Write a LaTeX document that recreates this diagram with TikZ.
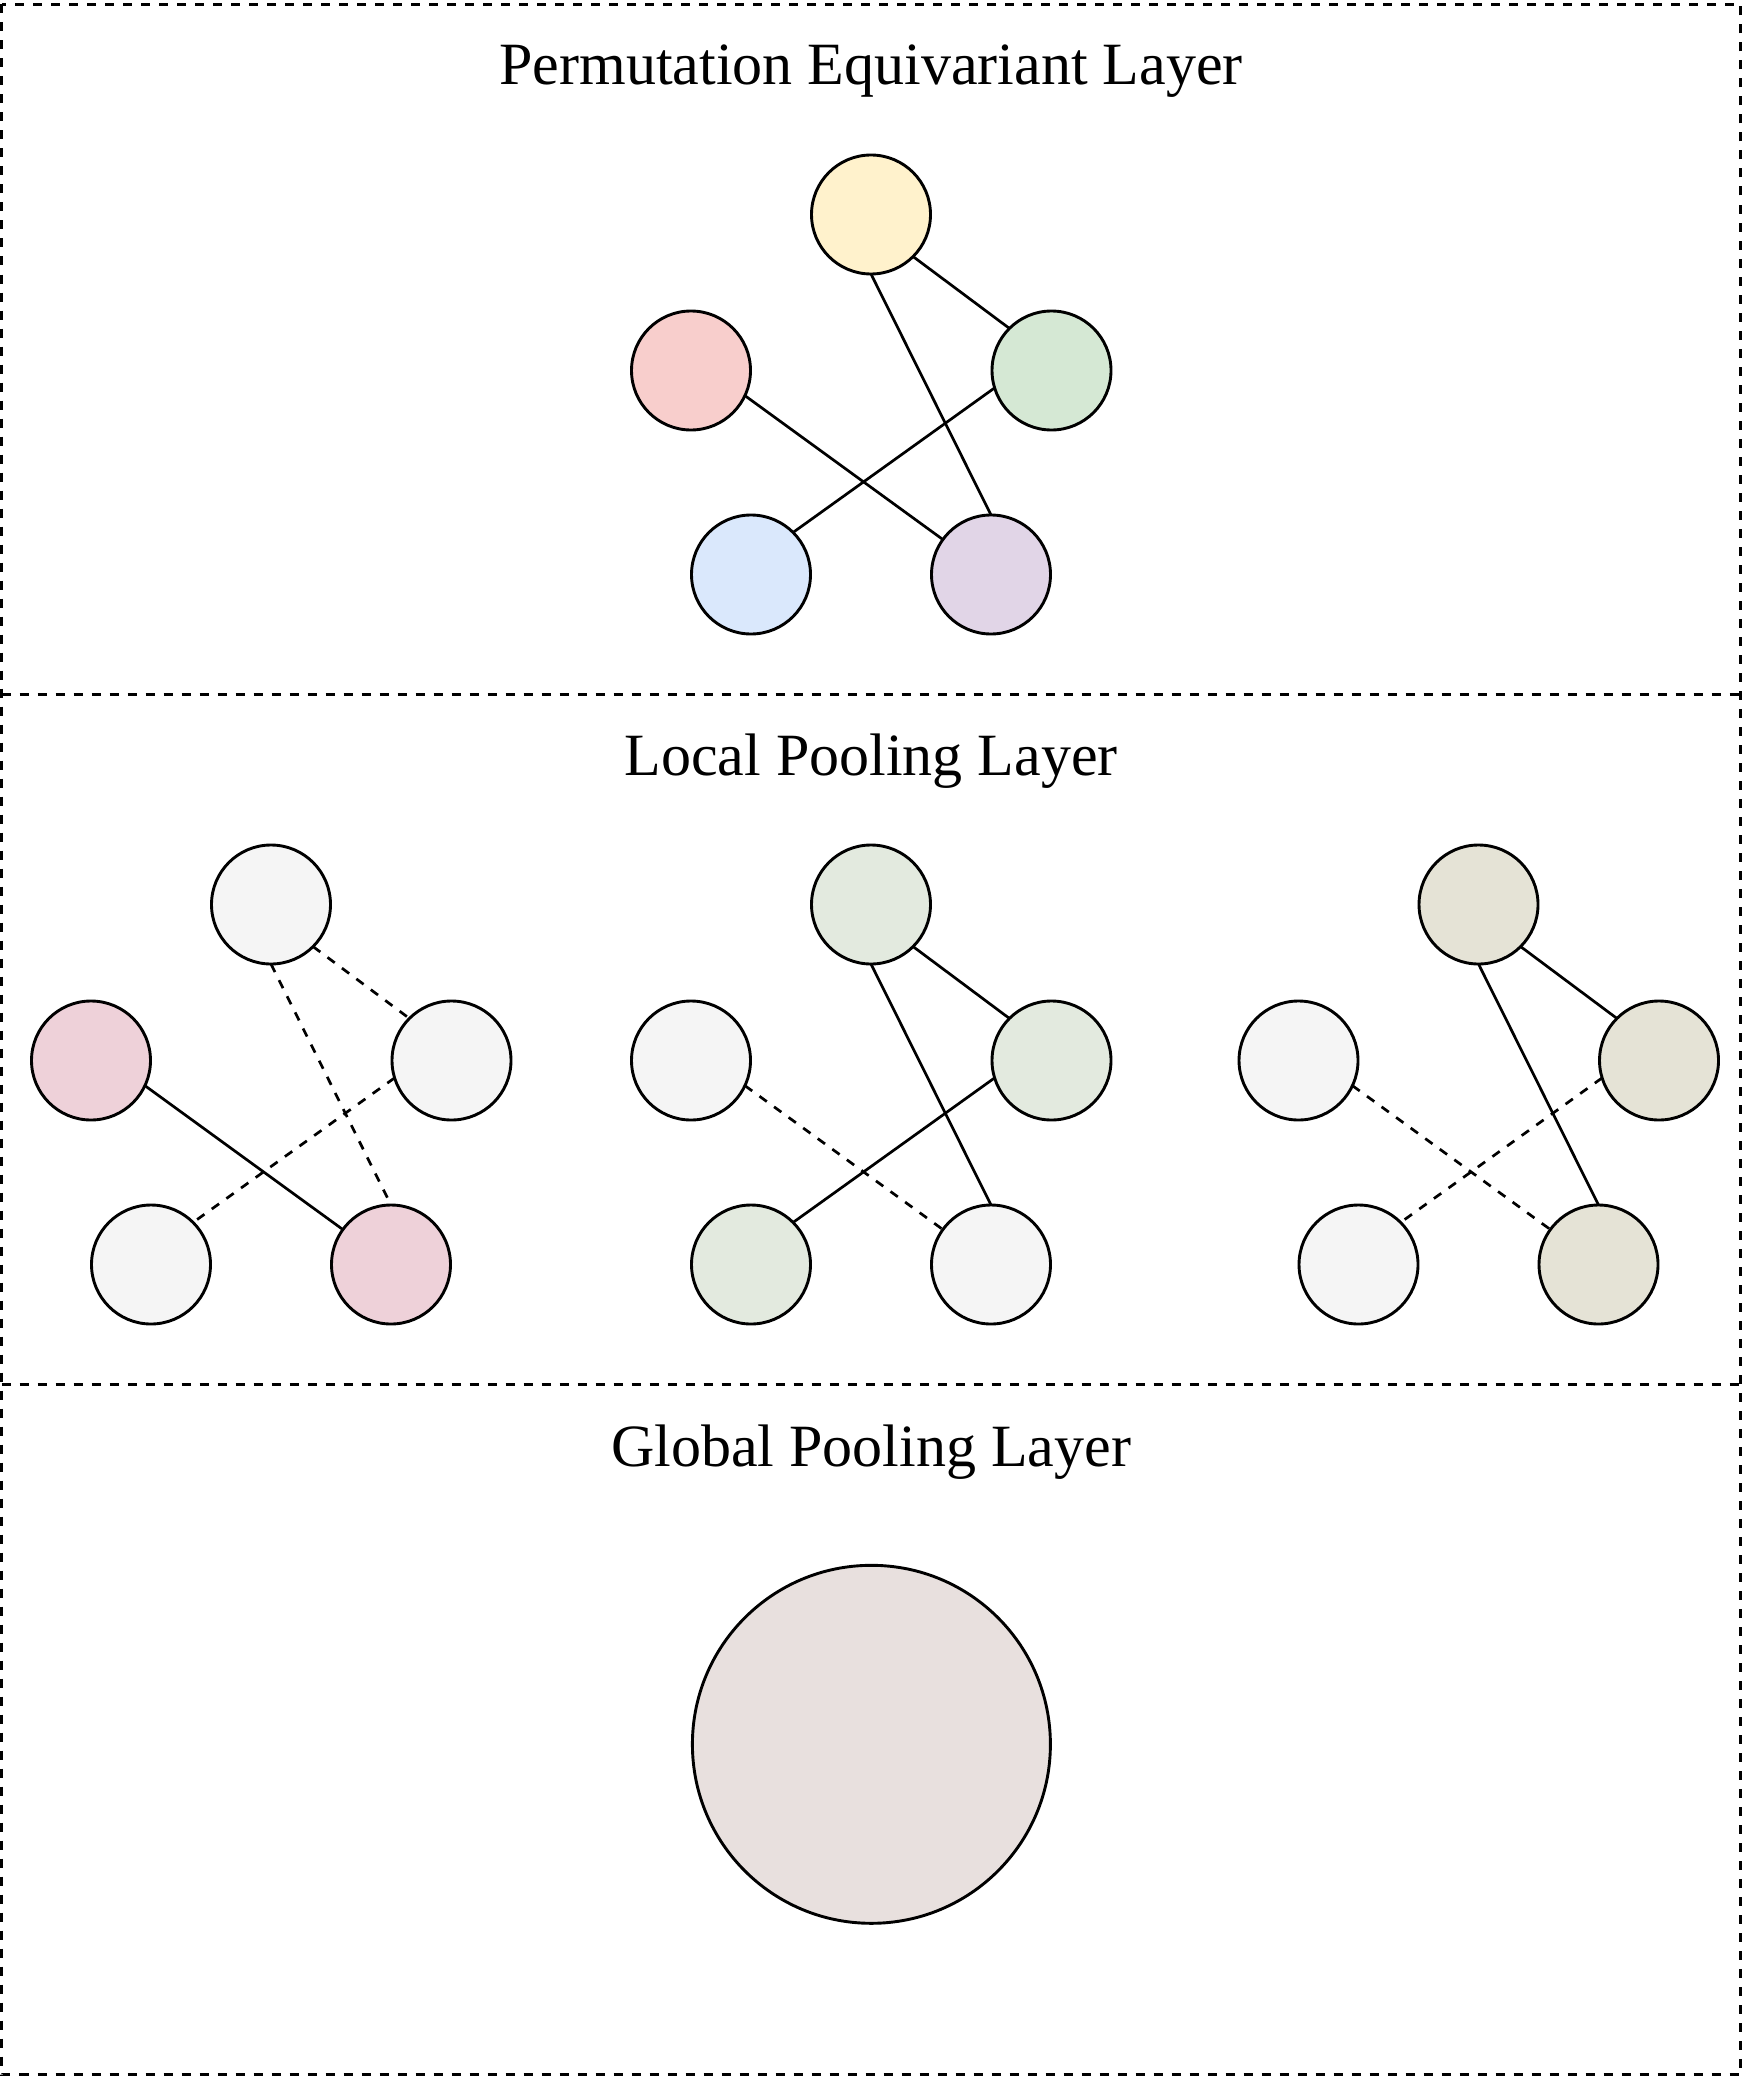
\documentclass[tikz,border=0pt]{standalone}
\usepackage{fontspec}
\setmainfont{Liberation Serif}
\definecolor{cyel}{HTML}{FFF2CC}
\definecolor{cred}{HTML}{F8CECC}
\definecolor{cgrn}{HTML}{D5E8D4}
\definecolor{cblu}{HTML}{DAE8FC}
\definecolor{cpur}{HTML}{E1D5E7}
\definecolor{cgry}{HTML}{F5F5F5}
\definecolor{cpnk}{HTML}{EED1D9}
\definecolor{csag}{HTML}{E3EADF}
\definecolor{ctan}{HTML}{E5E3D6}
\definecolor{cbig}{HTML}{E8E0DE}
\begin{document}
\begin{tikzpicture}[x=1pt,y=-1pt,
  frame/.style={draw=black, line width=2.6pt, dash pattern=on 9pt off 9pt},
  vtx/.style={circle, draw=black, line width=2.9pt, minimum size=119pt, inner sep=0pt, outer sep=0pt},
  bigvtx/.style={vtx, minimum size=358pt},
  title/.style={anchor=base, inner sep=0pt, font=\fontsize{60}{64}\selectfont},
  link/.style={draw=black, line width=2.7pt},
  dlink/.style={link, dash pattern=on 9pt off 9pt}]
\useasboundingbox (0,0) rectangle (1743,2076);
% frames
\draw[frame] (1.5,4.5) rectangle (1740.5,2074.5);
\draw[frame] (1.5,694.5) -- (1740.5,694.5);
\draw[frame] (1.5,1384.5) -- (1740.5,1384.5);
% titles
\node[title] (t1) at (871,84.3) {Permutation Equivariant Layer};
\node[title] (t2) at (871,775.3) {Local Pooling Layer};
\node[title] (t3) at (871,1466.5) {Global Pooling Layer};
% section 1
\node[vtx, fill=cyel] (y1) at (871,214.5) {};
\node[vtx, fill=cred] (r1) at (691,370.5) {};
\node[vtx, fill=cgrn] (g1) at (1051.5,370.5) {};
\node[vtx, fill=cblu] (b1) at (751,574.5) {};
\node[vtx, fill=cpur] (p1) at (991,574.5) {};
\draw[link] (y1.-45) -- (g1.135);
\draw[link] (y1.-90) -- (p1.90);
\draw[link] (r1.-25.5) -- (p1.144);
\draw[link] (g1.197) -- (b1.45);
% section 2, group A
\node[vtx, fill=cgry] (ta) at (271,904.5) {};
\node[vtx, fill=cpnk] (la) at (91,1060.5) {};
\node[vtx, fill=cgry] (ra) at (451.5,1060.5) {};
\node[vtx, fill=cgry] (ba) at (151,1264.5) {};
\node[vtx, fill=cpnk] (pa) at (391,1264.5) {};
\draw[dlink] (ta.-45) -- (ra.135);
\draw[dlink] (ta.-90) -- (pa.90);
\draw[link] (la.-25.5) -- (pa.144);
\draw[dlink] (ra.197) -- (ba.45);
% section 2, group B
\node[vtx, fill=csag] (tb) at (871,904.5) {};
\node[vtx, fill=cgry] (lb) at (691,1060.5) {};
\node[vtx, fill=csag] (rb) at (1051.5,1060.5) {};
\node[vtx, fill=csag] (bb) at (751,1264.5) {};
\node[vtx, fill=cgry] (pb) at (991,1264.5) {};
\draw[link] (tb.-45) -- (rb.135);
\draw[link] (tb.-90) -- (pb.90);
\draw[dlink] (lb.-25.5) -- (pb.144);
\draw[link] (rb.197) -- (bb.45);
% section 2, group C
\node[vtx, fill=ctan] (tc) at (1478.5,904.5) {};
\node[vtx, fill=cgry] (lc) at (1298.5,1060.5) {};
\node[vtx, fill=ctan] (rc) at (1659,1060.5) {};
\node[vtx, fill=cgry] (bc) at (1358.5,1264.5) {};
\node[vtx, fill=ctan] (pc) at (1598.5,1264.5) {};
\draw[link] (tc.-45) -- (rc.135);
\draw[link] (tc.-90) -- (pc.90);
\draw[dlink] (lc.-25.5) -- (pc.144);
\draw[dlink] (rc.197) -- (bc.45);
% section 3
\node[bigvtx, fill=cbig] (gp) at (871.4,1744.3) {};
\end{tikzpicture}
\end{document}
